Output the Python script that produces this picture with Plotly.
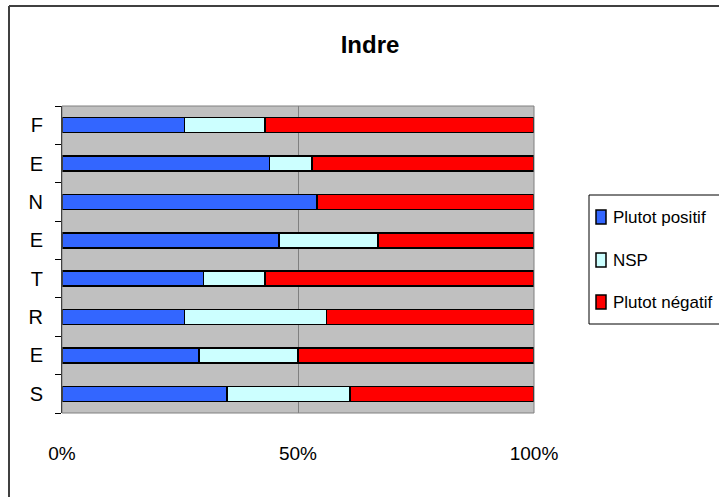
import plotly.graph_objects as go

# Rows from top to bottom (the letters spell FENETRES)
rows = ["F", "E", "N", "E", "T", "R", "E", "S"]
plutot_positif = [26, 44, 54, 46, 30, 26, 29, 35]
nsp = [17, 9, 0, 21, 13, 30, 21, 26]
plutot_negatif = [57, 47, 46, 33, 57, 44, 50, 39]

x_ticks = [0, 50, 100]
x_tick_labels = ["0%", "50%", "100%"]

series = [
    ("Plutot positif", plutot_positif, "#3366FF"),
    ("NSP", nsp, "#CCFFFF"),
    ("Plutot négatif", plutot_negatif, "#FF0000"),
]

W, H = 719, 497
L, R, T, B = 62, 534, 106, 413  # plot area in pixels
pw, ph = R - L, B - T


def px_x(p):
    return (p - L) / pw


def px_y(p):
    return (B - p) / ph


pos = list(range(len(rows)))
FONT = "Liberation Sans, Arial, sans-serif"

fig = go.Figure()
for name, vals, col in series:
    fig.add_trace(go.Bar(
        y=pos, x=vals, name=name, orientation="h",
        marker=dict(color=col, line=dict(color="black", width=1.5)),
        width=0.39, showlegend=False,
    ))

fig.update_layout(
    width=W, height=H,
    margin=dict(l=L, r=W - R, t=T, b=H - B, autoexpand=False),
    barmode="stack",
    paper_bgcolor="white",
    plot_bgcolor="#C0C0C0",
    font=dict(family=FONT, color="black", size=19),
    title=dict(
        text="<b>Indre</b>", font=dict(size=24, family=FONT),
        xref="paper", x=px_x(370), xanchor="center",
        yref="container", y=1 - 45 / H, yanchor="middle",
    ),
    xaxis=dict(
        range=[0, 100], tickvals=x_ticks, ticktext=x_tick_labels,
        showgrid=True, gridcolor="#808080", gridwidth=1,
        zeroline=False, showline=False, ticks="",
        ticklabelstandoff=27, tickfont=dict(size=19),
    ),
    yaxis=dict(
        range=[len(rows) - 0.5, -0.5], tickvals=pos, ticktext=rows,
        ticks="", showgrid=False, zeroline=False,
        showline=True, linecolor="black", linewidth=1,
        ticklabelstandoff=14, tickfont=dict(size=20),
        minor=dict(tickvals=[k - 0.5 for k in range(len(rows) + 1)],
                   ticks="outside", ticklen=6, tickcolor="black",
                   showgrid=False),
    ),
    showlegend=False,
)

# Plot area outline
fig.add_shape(type="rect", xref="paper", yref="paper", x0=0, x1=1, y0=0, y1=1,
              line=dict(color="#808080", width=1), layer="above")

# Outer chart frame (left and top edges fall inside the page)
frame = dict(color="#404040", width=2)
fig.add_shape(type="line", xref="paper", yref="paper",
              x0=px_x(9), x1=px_x(9), y0=px_y(500), y1=px_y(6), line=frame)
fig.add_shape(type="line", xref="paper", yref="paper",
              x0=px_x(9), x1=px_x(719), y0=px_y(6), y1=px_y(6), line=frame)

# Legend box with swatches and labels
lg_left, lg_top, lg_bottom = 589, 195, 324
item_y = [217, 260, 302]
fig.add_shape(type="rect", xref="paper", yref="paper",
              x0=px_x(lg_left), x1=px_x(760), y0=px_y(lg_bottom), y1=px_y(lg_top),
              line=dict(color="black", width=1), fillcolor="white")
for (name, _, col), yc in zip(series, item_y):
    fig.add_shape(type="rect", xref="paper", yref="paper",
                  x0=px_x(596), x1=px_x(606), y0=px_y(yc + 7), y1=px_y(yc - 7),
                  line=dict(color="black", width=1.5), fillcolor=col)
    fig.add_annotation(text=name, xref="paper", yref="paper",
                       x=px_x(611), y=px_y(yc), xanchor="left", yanchor="middle",
                       showarrow=False, font=dict(size=17, family=FONT))

fig.write_html("out.html")
